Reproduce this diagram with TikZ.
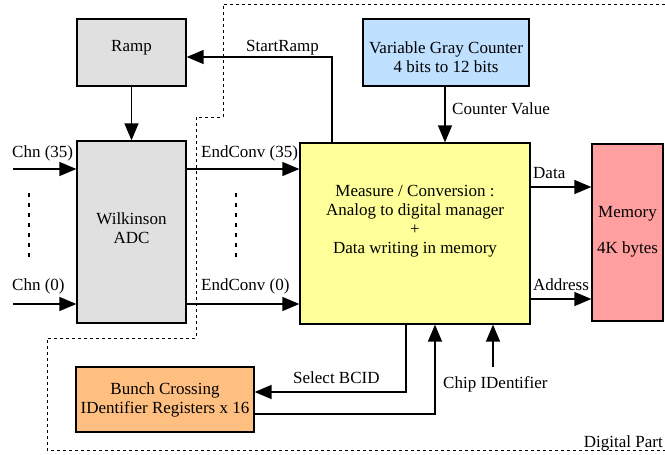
\documentclass[tikz,border=0pt]{standalone}
\usepackage{fontspec}
\setmainfont{Liberation Serif}
\usetikzlibrary{arrows.meta}

\definecolor{rampgray}{HTML}{E0E0E0}
\definecolor{counterblue}{HTML}{BFE0FF}
\definecolor{measureyellow}{HTML}{FFFF99}
\definecolor{memoryred}{HTML}{FF9F9F}
\definecolor{bcidorange}{HTML}{FFBF80}

\begin{document}
\begin{tikzpicture}[x=1pt,y=-1pt,
  block/.style={draw, line width=1.3pt, inner sep=0pt},
  blocktext/.style={align=center, font=\fontsize{17}{19}\selectfont, inner sep=0pt},
  sig/.style={font=\fontsize{17}{19}\selectfont, inner sep=0pt, anchor=base west},
  arr/.style={line width=1.4pt, -{Triangle[length=17pt,width=14pt]}}]

\useasboundingbox (0,0) rectangle (665,455);

% Digital part boundary (dotted)
\draw[line width=0.8pt, dash pattern=on 3pt off 3pt]
  (665,4) -- (223,4) -- (223,117) -- (196,117) -- (196,338) -- (47,338) -- (47,450) -- (665,450);
\node[sig, anchor=base east] (digital) at (663,447) {Digital Part};

% Blocks
\node[block, fill=rampgray, minimum width=109pt, minimum height=67pt] (Ramp) at (131.5,52.5) {};
\node[blocktext] (Ramptxt) at (131.5,48) {Ramp};

\node[block, fill=rampgray, minimum width=109pt, minimum height=182pt] (ADC) at (131.5,232) {};
\node[blocktext] (ADCtxt) at (131.5,228) {Wilkinson\\ADC};

\node[block, fill=counterblue, minimum width=166pt, minimum height=67pt] (Counter) at (446,52.5) {};
\node[blocktext] (Countertxt) at (446,57) {Variable Gray Counter\\4 bits to 12 bits};

\node[block, fill=measureyellow, minimum width=230pt, minimum height=181pt] (Measure) at (415,233.5) {};
\node[blocktext] (Measuretxt) at (415,221.5) {Measure / Conversion :\\Analog to digital manager\\+\\Data writing in memory};

\node[block, fill=memoryred, minimum width=71pt, minimum height=177pt] (Memory) at (627.5,232.5) {};
\node[blocktext] (Memorytxt) at (627.5,232) {Memory\\[17pt]4K bytes};

\node[block, fill=bcidorange, minimum width=178pt, minimum height=65pt] (Bunch) at (165,399.5) {};
\node[blocktext] (Bunchtxt) at (165,399.5) {Bunch Crossing\\IDentifier Registers x 16};

% Channel inputs
\coordinate (in35) at (13,169);
\coordinate (in0) at (13,304);
\draw[arr] (in35) -- (in35 -| ADC.west);
\draw[arr] (in0) -- (in0 -| ADC.west);
\node[sig] (chn35) at (12,157) {Chn (35)};
\node[sig] (chn0) at (12,290) {Chn (0)};
\draw[line width=2pt, dash pattern=on 4pt off 6pt] (29,193) -- (29,257);

% End of conversion signals
\draw[arr] (ADC.east |- in35) -- (Measure.west |- in35);
\draw[arr] (ADC.east |- in0) -- (Measure.west |- in0);
\node[sig] (end35) at (201,157) {EndConv (35)};
\node[sig] (end0) at (201,290) {EndConv (0)};
\draw[line width=2pt, dash pattern=on 4pt off 6pt] (236,193) -- (236,257);

% Ramp control
\draw[arr] (Ramp) -- (ADC);
\draw[arr] (Measure.north -| 332,0) |- ([yshift=-4.5pt]Ramp.east);
\node[sig] (startramp) at (246,52) {StartRamp};

% Counter value
\draw[arr] (Counter.south -| 445,0) -- (Measure.north -| 445,0);
\node[sig] (countval) at (452,114) {Counter Value};

% Memory access
\draw[arr] (Measure.east |- 0,187) -- (Memory.west |- 0,187);
\draw[arr] (Measure.east |- 0,299) -- (Memory.west |- 0,299);
\node[sig] (data) at (533,178) {Data};
\node[sig] (address) at (533,290) {Address};

% BCID registers
\draw[arr] (Measure.south -| 406,0) |- (Bunch.east |- 0,392);
\draw[arr] (Bunch.east |- 0,414) -| (Measure.south -| 435,0);
\node[sig] (selbcid) at (293,383) {Select BCID};

% Chip identifier
\coordinate (chip) at (493,367);
\draw[arr] (chip) -- (chip |- Measure.south);
\node[sig] (chipid) at (443,388) {Chip IDentifier};

\end{tikzpicture}
\end{document}
